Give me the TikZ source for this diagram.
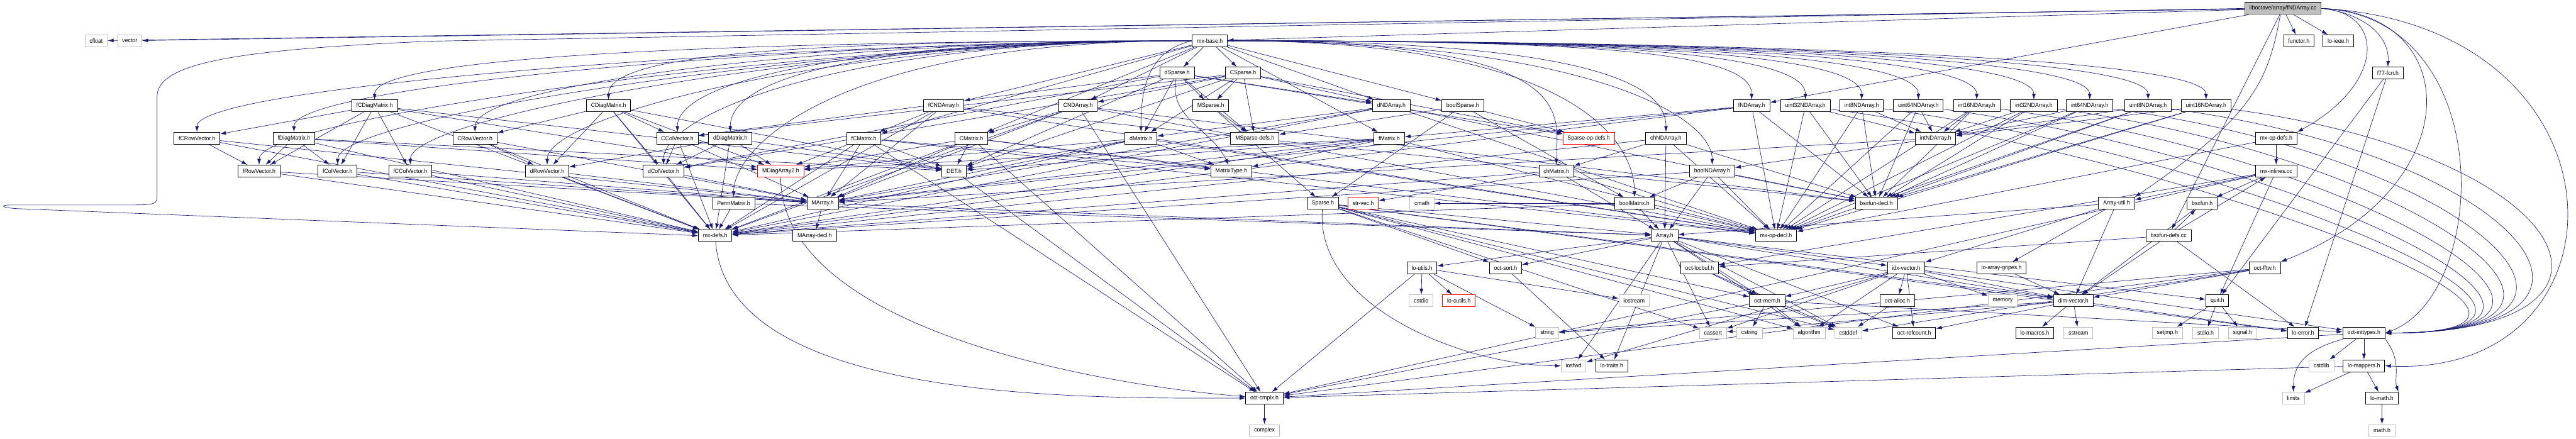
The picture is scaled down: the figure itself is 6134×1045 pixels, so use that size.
\documentclass[tikz,border=0pt]{standalone}
\usepackage{fontspec}
\setmainfont{Liberation Sans}[FakeStretch=0.94]
\usepackage{tikz}
\usetikzlibrary{arrows.meta, backgrounds}
\definecolor{edgeblue}{RGB}{25,25,112}
\definecolor{sysgrey}{RGB}{191,191,191}
\tikzset{
  hdr/.style ={rectangle, draw=black, fill=white, line width=0.7pt, inner xsep=5.5pt, inner ysep=0pt, minimum height=14pt, font=\fontsize{7}{8}\selectfont},
  sys/.style ={hdr, draw=sysgrey},
  cut/.style ={hdr, draw=red},
  root/.style={hdr, fill=sysgrey, draw=black!70, line width=1pt},
  fl/.style  ={-{Latex[length=7pt,width=4.5pt]}, color=edgeblue, line width=0.5pt},
  lft/.style ={to path={.. controls +(-900,0) and +(0,130) .. (\tikztotarget) \tikztonodes}},
  rgt/.style ={to path={.. controls +(900,0) and +(0,130) .. (\tikztotarget) \tikztonodes}},
  toR/.style ={to path={.. controls +(900,-120) and +(700,0) .. (\tikztotarget) \tikztonodes}},
}

\begin{document}
\begin{tikzpicture}[x=0.5pt, y=0.5pt]
\useasboundingbox (0,0) rectangle (6134,-1045);

% source file
\node[root] (fndcc) at (5436,-20) {liboctave/array/fNDArray.cc};

% rank 1
\node[sys] (cfloat) at (229,-97) {cfloat};
\node[sys] (vector) at (309,-97) {vector};
\node[hdr] (mxbase) at (2881,-97) {mx-base.h};
\node[hdr] (functor) at (5474,-97) {functor.h};
\node[hdr] (loieee) at (5568,-97) {lo-ieee.h};

% rank 2
\node[hdr] (dsparse) at (2803,-174) {dSparse.h};
\node[hdr] (csparse) at (2960,-174) {CSparse.h};
\node[hdr] (ffcn) at (5686,-174) {f77-fcn.h};

% rank 3
\node[hdr] (fcdiag) at (892,-252) {fCDiagMatrix.h};
\node[hdr] (cdiag) at (1449,-252) {CDiagMatrix.h};
\node[hdr] (fcnd) at (2247,-252) {fCNDArray.h};
\node[hdr] (cnd) at (2567,-252) {CNDArray.h};
\node[hdr] (msparse) at (2883,-252) {MSparse.h};
\node[hdr] (dnd) at (3313,-252) {dNDArray.h};
\node[hdr] (boolsp) at (3483,-252) {boolSparse.h};
\node[hdr] (fnd) at (4171,-252) {fNDArray.h};
\node[hdr] (u32nd) at (4299,-252) {uint32NDArray.h};
\node[hdr] (i8nd) at (4433,-252) {int8NDArray.h};
\node[hdr] (u64nd) at (4568,-252) {uint64NDArray.h};
\node[hdr] (i16nd) at (4707,-252) {int16NDArray.h};
\node[hdr] (i32nd) at (4843,-252) {int32NDArray.h};
\node[hdr] (i64nd) at (4976,-252) {int64NDArray.h};
\node[hdr] (u8nd) at (5115,-252) {uint8NDArray.h};
\node[hdr] (u16nd) at (5253,-252) {uint16NDArray.h};

% rank 4
\node[hdr] (fcrow) at (469,-329) {fCRowVector.h};
\node[hdr] (fdiag) at (700,-329) {fDiagMatrix.h};
\node[hdr] (crow) at (1131,-329) {CRowVector.h};
\node[hdr] (ccol) at (1613,-329) {CColVector.h};
\node[hdr] (ddiag) at (1739,-329) {dDiagMatrix.h};
\node[hdr] (fcmat) at (2057,-329) {fCMatrix.h};
\node[hdr] (cmat) at (2313,-329) {CMatrix.h};
\node[hdr] (dmat) at (2717,-329) {dMatrix.h};
\node[hdr] (mspdefs) at (2988,-329) {MSparse-defs.h};
\node[hdr] (fmat) at (3308,-329) {fMatrix.h};
\node[cut] (spopdefs) at (3783,-329) {Sparse-op-defs.h};
\node[hdr] (chnd) at (3967,-329) {chNDArray.h};
\node[hdr] (intnd) at (4609,-329) {intNDArray.h};
\node[hdr] (mxopdefs) at (5420,-329) {mx-op-defs.h};

% rank 5
\node[hdr] (frow) at (617,-407) {fRowVector.h};
\node[hdr] (fcol) at (804,-407) {fColVector.h};
\node[hdr] (fccol) at (977,-407) {fCColVector.h};
\node[hdr] (drow) at (1303,-407) {dRowVector.h};
\node[hdr] (dcol) at (1580,-407) {dColVector.h};
\node[cut] (mdiag) at (1859,-407) {MDiagArray2.h};
\node[hdr] (det) at (2272,-407) {DET.h};
\node[hdr] (mtype) at (2932,-407) {MatrixType.h};
\node[hdr] (chmat) at (3706,-407) {chMatrix.h};
\node[hdr] (boolnd) at (4077,-407) {boolNDArray.h};
\node[hdr] (mxinl) at (5420,-407) {mx-inlines.cc};

% rank 6
\node[hdr] (perm) at (1747,-484) {PermMatrix.h};
\node[hdr] (marray) at (1959,-484) {MArray.h};
\node[hdr] (sparse) at (3150,-484) {Sparse.h};
\node[cut] (strvec) at (3246,-484) {str-vec.h};
\node[sys] (cmath) at (3386,-484) {cmath};
\node[hdr] (boolmat) at (3892,-484) {boolMatrix.h};
\node[hdr] (bsxdecl) at (4468,-484) {bsxfun-decl.h};
\node[hdr] (arrutil) at (5040,-484) {Array-util.h};
\node[hdr] (bsxfun) at (5244,-484) {bsxfun.h};

% rank 7
\node[hdr] (mxdefs) at (1703,-561) {mx-defs.h};
\node[hdr] (marrdecl) at (1940,-561) {MArray-decl.h};
\node[hdr] (array) at (3964,-561) {Array.h};
\node[hdr] (mxopdecl) at (4229,-561) {mx-op-decl.h};
\node[hdr] (bsxdefs) at (5164,-561) {bsxfun-defs.cc};

% rank 8
\node[hdr] (loutils) at (3386,-638) {lo-utils.h};
\node[hdr] (octsort) at (3585,-638) {oct-sort.h};
\node[hdr] (locbuf) at (4047,-638) {oct-locbuf.h};
\node[hdr] (idxvec) at (4539,-638) {idx-vector.h};
\node[hdr] (gripes) at (4766,-638) {lo-array-gripes.h};
\node[hdr] (fftw) at (5393,-638) {oct-fftw.h};

% rank 9
\node[sys] (cstdio) at (3384,-716) {cstdio};
\node[cut] (locutils) at (3474,-716) {lo-cutils.h};
\node[sys] (iostream) at (3891,-716) {iostream};
\node[hdr] (octmem) at (4208,-716) {oct-mem.h};
\node[hdr] (octalloc) at (4518,-716) {oct-alloc.h};
\node[sys] (memory) at (4769,-716) {memory};
\node[hdr] (dimvec) at (4937,-716) {dim-vector.h};
\node[hdr] (quit) at (5280,-716) {quit.h};

% rank 10
\node[sys] (string) at (3684,-793) {string};
\node[sys] (cassert) at (4079,-793) {cassert};
\node[sys] (cstring) at (4166,-793) {cstring};
\node[sys] (algorithm) at (4308,-793) {algorithm};
\node[sys] (cstddef) at (4401,-793) {cstddef};
\node[hdr] (refcount) at (4558,-793) {oct-refcount.h};
\node[hdr] (lomacros) at (4845,-793) {lo-macros.h};
\node[sys] (sstream) at (4949,-793) {sstream};
\node[sys] (setjmp) at (5161,-793) {setjmp.h};
\node[sys] (stdio) at (5252,-793) {stdio.h};
\node[sys] (signal) at (5340,-793) {signal.h};
\node[hdr] (loerror) at (5484,-793) {lo-error.h};
\node[hdr] (inttypes) at (5629,-793) {oct-inttypes.h};

% rank 11-13
\node[sys] (iosfwd) at (3747,-871) {iosfwd};
\node[hdr] (lotraits) at (3838,-871) {lo-traits.h};
\node[sys] (cstdlib) at (5528,-871) {cstdlib};
\node[hdr] (lomappers) at (5629,-871) {lo-mappers.h};
\node[hdr] (octcmplx) at (3011,-948) {oct-cmplx.h};
\node[sys] (limits) at (5461,-948) {limits};
\node[hdr] (lomath) at (5672,-948) {lo-math.h};
\node[sys] (complex) at (3011,-1025) {complex};
\node[sys] (mathh) at (5672,-1025) {math.h};

\begin{pgfonlayer}{background}
% includes of the source file
\path[fl] (fndcc) edge (cfloat) edge (vector) edge (mxbase) edge (functor) edge (loieee) edge (fnd) edge (bsxdefs);
\draw[fl] (fndcc.east) .. controls (5620,-30) and (5690,-80) .. (ffcn.north);
\draw[fl] (fndcc.east) .. controls (5680,-30) and (5680,-200) .. (mxopdefs.north east);
\draw[fl] ([xshift=-3pt]fndcc.south) .. controls (5400,-200) and (5360,-280) .. (arrutil.north east);
\draw[fl] (fndcc.east) .. controls (5870,-30) and (5880,-450) .. (fftw.north east);
\draw[fl] (fndcc.east) .. controls (5950,-40) and (5930,-700) .. (inttypes.east);
\draw[fl] (fndcc.east) .. controls (6280,-60) and (6280,-900) .. (lomappers.east);
\draw[fl] (fndcc.west) -- (1030,-98) .. controls (560,-118) and (374,-150) .. (374,-230) -- (374,-470)
  .. controls (374,-488) and (360,-488) .. (300,-488) -- (25,-488) .. controls (0,-488) and (0,-495) .. (45,-497) -- (mxdefs.west);

% mx-base.h
\path[fl] (mxbase) edge (dsparse) edge (csparse) edge (fcnd) edge (cnd) edge (fcmat) edge (cmat) edge (dnd) edge (boolsp) edge (fmat);
\draw[fl] (mxbase.west) .. controls (2740,-120) and (2716,-200) .. (dmat.north);
\path[fl] (mxbase) edge[lft] (fcdiag) edge[lft] (cdiag) edge[lft] (fcrow) edge[lft] (fdiag) edge[lft] (crow) edge[lft] (ccol) edge[lft] (ddiag)
  edge[lft] (frow) edge[lft] (fcol) edge[lft] (fccol) edge[lft] (drow) edge[lft] (dcol) edge[lft] (perm);
\path[fl] (mxbase) edge[rgt] (fnd) edge[rgt] (u32nd) edge[rgt] (i8nd) edge[rgt] (u64nd) edge[rgt] (i16nd) edge[rgt] (i32nd) edge[rgt] (i64nd)
  edge[rgt] (u8nd) edge[rgt] (u16nd) edge[rgt] (chnd) edge[rgt] (chmat) edge[rgt] (boolnd) edge[rgt] (boolmat);

% sparse
\path[fl] (dsparse) edge (msparse) edge (mspdefs) edge (spopdefs) edge (dmat) edge (dnd) edge (dcol) edge (ccol) edge (det);
\draw[fl] (dsparse) .. controls +(-20,-108) and +(-47,100) .. (mtype);
\path[fl] (csparse) edge (msparse) edge (mspdefs) edge (spopdefs) edge (cnd) edge (dmat) edge (dnd) edge (dcol) edge (ccol) edge (det);
\path[fl] (msparse) edge (mspdefs) edge (sparse);
\path[fl] (boolsp) edge (sparse) edge (mspdefs) edge (spopdefs) edge (boolmat);
\path[fl] (sparse) edge (array) edge (dimvec) edge (octsort) edge (octmem) edge (cassert) edge (cstddef) edge (algorithm) edge (loerror);
\draw[fl] (sparse) .. controls +(-20,-250) and +(-250,0) .. (iosfwd);

% diagonal matrices and vectors
\path[fl] (fcdiag) edge (fcrow) edge (frow) edge (fcol) edge (fccol) edge (mdiag) edge (mxdefs) edge (det);
\path[fl] (fdiag) edge (frow) edge (fcol) edge (mdiag) edge (mxdefs) edge (det);
\path[fl] (cdiag) edge (crow) edge (drow) edge (ccol) edge (dcol) edge (mdiag) edge (mxdefs) edge (det);
\path[fl] (ddiag) edge (drow) edge (dcol) edge (mdiag) edge (mxdefs) edge (det);
\path[fl] (fcrow) edge (frow) edge (marray) edge (mxdefs);
\path[fl] (crow) edge (drow) edge (marray) edge (mxdefs);
\path[fl] (ccol) edge (dcol) edge (marray) edge (mxdefs);
\path[fl] (frow) edge (marray) edge (mxdefs);
\path[fl] (fcol) edge (marray) edge (mxdefs);
\path[fl] (fccol) edge (marray) edge (mxdefs);
\path[fl] (drow) edge (marray) edge (mxdefs);
\path[fl] (dcol) edge (marray) edge (mxdefs);
\path[fl] (perm) edge (array) edge (mxdefs);
\path[fl] (marray) edge (array) edge (marrdecl);
\draw[fl] (mdiag) .. controls +(0,-380) and +(-380,30) .. (octcmplx);
\draw[fl] (mxdefs) .. controls +(30,-400) and +(-420,0) .. (octcmplx);
\path[fl] (det) edge (octcmplx);

% matrices
\path[fl] (fcmat) edge (marray) edge (mdiag) edge (mtype) edge (mxdefs) edge (mxopdecl) edge (det) edge (octcmplx);
\path[fl] (cmat) edge (marray) edge (mdiag) edge (mtype) edge (mxdefs) edge (mxopdecl) edge (det) edge (octcmplx);
\path[fl] (dmat) edge (marray) edge (mdiag) edge (mtype) edge (mxdefs) edge (mxopdecl) edge (det);
\path[fl] (fmat) edge (marray) edge (mdiag) edge (mtype) edge (mxdefs) edge (mxopdecl) edge (det);
\path[fl] (chmat) edge (array) edge (mxdefs) edge (mxopdecl) edge (strvec);
\path[fl] (boolmat) edge (array) edge (mxdefs) edge (mxopdecl) edge (cmath);

% N-d arrays
\path[fl] (fcnd) edge (marray) edge (fcmat) edge (mxdefs) edge (mxopdecl) edge (bsxdecl);
\path[fl] (cnd) edge (marray) edge (cmat) edge (mxdefs) edge (mxopdecl) edge (bsxdecl) edge (octcmplx);
\path[fl] (dnd) edge (marray) edge (dmat) edge (mxdefs) edge (mxopdecl) edge (bsxdecl);
\path[fl] (fnd) edge (marray) edge (fmat) edge (mxdefs) edge (mxopdecl) edge (bsxdecl);
\path[fl] (chnd) edge (array) edge (chmat) edge (mxdefs) edge (mxopdecl) edge (bsxdecl);
\path[fl] (boolnd) edge (array) edge (boolmat) edge (mxdefs) edge (mxopdecl) edge (bsxdecl);
\path[fl] (intnd) edge (marray) edge (boolnd);
\path[fl] (u32nd) edge (intnd) edge (mxopdecl) edge (bsxdecl) edge[toR] (inttypes);
\path[fl] (i8nd) edge (intnd) edge (mxopdecl) edge (bsxdecl) edge[toR] (inttypes);
\path[fl] (u64nd) edge (intnd) edge (mxopdecl) edge (bsxdecl) edge[toR] (inttypes);
\path[fl] (i16nd) edge (intnd) edge (mxopdecl) edge (bsxdecl) edge[toR] (inttypes);
\path[fl] (i32nd) edge (intnd) edge (mxopdecl) edge (bsxdecl) edge[toR] (inttypes);
\path[fl] (i64nd) edge (intnd) edge (mxopdecl) edge (bsxdecl) edge[toR] (inttypes);
\path[fl] (u8nd) edge (intnd) edge (mxopdecl) edge (bsxdecl) edge[toR] (inttypes);
\path[fl] (u16nd) edge (intnd) edge (mxopdecl) edge (bsxdecl) edge[toR] (inttypes);

% operators and helpers
\path[fl] (mxopdefs) edge (mxinl) edge (mxopdecl);
\path[fl] (mxinl) edge (arrutil) edge (bsxfun) edge (quit) edge (locbuf) edge (octcmplx);
\path[fl] (bsxdefs) edge (bsxfun) edge (mxinl) edge (dimvec) edge (locbuf) edge (loerror);
\path[fl] (bsxfun) edge (dimvec);
\path[fl] (arrutil) edge (array) edge (dimvec) edge (idxvec) edge (gripes);
\path[fl] (array) edge (loutils) edge (octsort) edge (idxvec) edge (dimvec) edge (lotraits) edge (iosfwd) edge (quit)
  edge (octmem) edge (refcount) edge (cassert) edge (cstddef) edge (algorithm);
\path[fl] (loutils) edge (cstdio) edge (locutils) edge (iostream) edge (string) edge (octcmplx);
\path[fl] (octsort) edge (lotraits);
\path[fl] (locbuf) edge (cstddef) edge (octmem);
\path[fl] (idxvec) edge (octalloc) edge (octmem) edge (cassert) edge (algorithm) edge (refcount) edge (memory) edge (dimvec) edge (iosfwd) edge (inttypes);
\path[fl] (gripes) edge (dimvec);
\path[fl] (fftw) edge (cstddef) edge (string) edge (octcmplx) edge (dimvec);
\path[fl] (octmem) edge (cstddef) edge (cstring) edge (algorithm) edge (inttypes) edge (octcmplx);
\path[fl] (octalloc) edge (cstddef);
\path[fl] (dimvec) edge (cassert) edge (sstream) edge (string) edge (loerror) edge (lomacros) edge (refcount);
\path[fl] (quit) edge (setjmp) edge (stdio) edge (signal);
\path[fl] (ffcn) edge (quit) edge (loerror);
\path[fl] (inttypes) edge (cstdlib) edge (lomappers) edge (octcmplx);
\draw[fl] (inttypes.south east) .. controls (5720,-860) and (5700,-900) .. (lomath.north east);
\draw[fl] (inttypes.south west) .. controls (5500,-830) and (5461,-860) .. (limits.north);
\path[fl] (lomappers) edge (limits) edge (lomath) edge (octcmplx);
\path[fl] (lomath) edge (mathh);
\path[fl] (octcmplx) edge (complex);
\end{pgfonlayer}

\end{tikzpicture}
\end{document}
